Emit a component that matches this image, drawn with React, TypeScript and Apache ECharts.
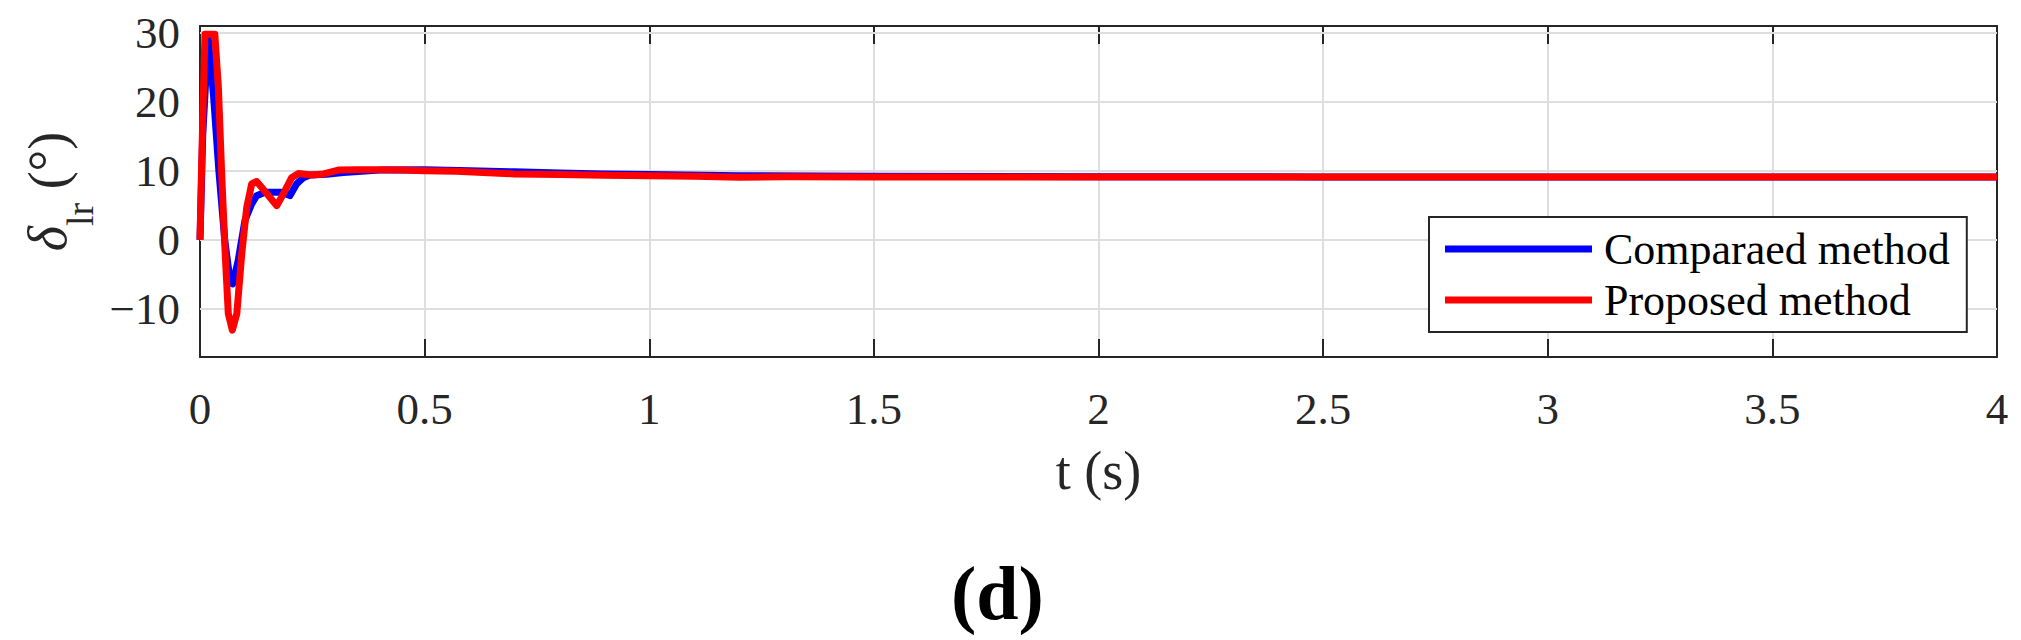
import React, { useEffect, useRef } from "react";
import * as echarts from "echarts";

const seriesNames = ["Comparaed method", "Proposed method"];
const xTicks = [0, 0.5, 1, 1.5, 2, 2.5, 3, 3.5, 4];
const yTicks = [-10, 0, 10, 20, 30];
const yMin = -17;
const yMax = 31;

const comparedT = [0, 0.006, 0.018, 0.03, 0.042, 0.055, 0.065, 0.073, 0.085, 0.1, 0.115, 0.126, 0.145, 0.182, 0.2, 0.215, 0.23, 0.245, 0.282, 0.319, 0.4, 0.5, 0.6, 0.7, 0.8, 0.9, 1.0, 1.2, 1.5, 2.0, 2.5, 3.0, 3.5, 4.0];
const comparedV = [0, 15, 29.5, 21, 10, 0, -5, -6.4, -3, 2.8, 5.2, 6.4, 6.9, 6.9, 6.4, 8.1, 9.0, 9.4, 9.5, 9.75, 10.1, 10.15, 10.0, 9.85, 9.7, 9.55, 9.45, 9.3, 9.2, 9.15, 9.12, 9.1, 9.1, 9.1];

const proposedT = [0, 0.004, 0.011, 0.033, 0.041, 0.048, 0.056, 0.063, 0.072, 0.082, 0.093, 0.104, 0.115, 0.126, 0.137, 0.171, 0.185, 0.204, 0.219, 0.249, 0.275, 0.308, 0.35, 0.4, 0.45, 0.5, 0.57, 0.7, 0.8, 0.9, 1.0, 1.1, 1.2, 1.3, 1.5, 2.0, 2.5, 3.0, 3.5, 4.0];
const proposedV = [0, 12, 29.8, 29.8, 22, 10, -2, -10.7, -13.1, -10.7, -2, 4.7, 8.1, 8.45, 7.6, 4.95, 6.6, 9.0, 9.6, 9.4, 9.55, 10.1, 10.15, 10.15, 10.1, 10.0, 9.95, 9.55, 9.45, 9.35, 9.3, 9.2, 9.05, 9.15, 9.12, 9.1, 9.1, 9.1, 9.1, 9.1];

const FONT = "'Liberation Serif', 'Times New Roman', serif";
const AXIS_COLOR = "#262626";
const GRID_COLOR = "#dedede";

const fmtNum = (v: number) => (v < 0 ? "\u2212" + Math.abs(v) : String(v));

export default function App() {
  const ref = useRef<HTMLDivElement>(null);
  useEffect(() => {
    if (!ref.current) return;
    const chart = echarts.init(ref.current, null, { renderer: "svg" });
    const pairs = (t: number[], v: number[]) => t.map((x, i) => [x, v[i]]);
    const boxAxis = {
      axisLine: { show: true, onZero: false, lineStyle: { color: AXIS_COLOR, width: 2 } },
      axisTick: { show: true, inside: true, length: 18, lineStyle: { color: AXIS_COLOR, width: 2 } },
    };
    chart.setOption({
      animation: false,
      backgroundColor: "#ffffff",
      grid: { left: 200, top: 26, right: 24, bottom: 283, containLabel: false },
      legend: {
        orient: "vertical",
        left: 1429,
        top: 217,
        data: seriesNames,
        icon: "rect",
        itemWidth: 147,
        itemHeight: 7,
        itemGap: 7,
        padding: [10, 17, 10, 16],
        borderColor: AXIS_COLOR,
        borderWidth: 2,
        backgroundColor: "#ffffff",
        textStyle: { fontFamily: FONT, fontSize: 44, lineHeight: 44, color: "#000000", padding: [0, 0, 0, 7] },
        z: 10,
      },
      xAxis: [
        {
          type: "value",
          min: 0,
          max: 4,
          interval: 0.5,
          position: "bottom",
          ...boxAxis,
          axisLabel: {
            show: true,
            margin: 29,
            fontFamily: FONT,
            fontSize: 45,
            color: AXIS_COLOR,
            showMinLabel: true,
            showMaxLabel: true,
            formatter: (v: number) => fmtNum(v),
          },
          splitLine: { show: true, lineStyle: { color: GRID_COLOR, width: 2 } },
          name: "t (s)",
          nameLocation: "middle",
          nameGap: 87,
          nameTextStyle: { fontFamily: FONT, fontSize: 54, color: AXIS_COLOR },
        },
        {
          type: "value",
          min: 0,
          max: 4,
          interval: 0.5,
          position: "top",
          ...boxAxis,
          axisLabel: { show: false },
          splitLine: { show: false },
        },
      ],
      yAxis: [
        {
          type: "value",
          min: yMin,
          max: yMax,
          position: "left",
          ...boxAxis,
          axisTick: { ...boxAxis.axisTick, customValues: yTicks },
          axisLabel: {
            show: true,
            customValues: yTicks,
            margin: 20,
            fontFamily: FONT,
            fontSize: 45,
            color: AXIS_COLOR,
            formatter: (v: number) => fmtNum(v),
          },
          splitLine: { show: false },
          name: "{d|\u03b4}{s|lr}{n| (\u00b0)}",
          nameLocation: "middle",
          nameRotate: 90,
          nameGap: 112,
          nameTextStyle: {
            fontFamily: FONT,
            color: AXIS_COLOR,
            rich: {
              d: { fontFamily: FONT, fontSize: 54, fontStyle: "italic", lineHeight: 54, verticalAlign: "top", color: AXIS_COLOR },
              s: { fontFamily: FONT, fontSize: 38, lineHeight: 38, verticalAlign: "top", padding: [40, 0, 0, 0], color: AXIS_COLOR },
              n: { fontFamily: FONT, fontSize: 54, lineHeight: 54, verticalAlign: "top", color: AXIS_COLOR },
            },
          },
        },
        {
          type: "value",
          min: yMin,
          max: yMax,
          position: "right",
          ...boxAxis,
          axisTick: { ...boxAxis.axisTick, customValues: yTicks },
          axisLabel: { show: false },
          splitLine: { show: false },
        },
      ],
      graphic: [
        {
          type: "text",
          left: 1001 - 50,
          top: 595 - 40,
          style: {
            text: "(d)",
            fontFamily: FONT,
            fontSize: 76,
            fontWeight: "bold",
            fill: "#000000",
          },
        },
      ],
      series: [
        {
          name: "__grid",
          type: "line",
          data: [],
          silent: true,
          z: 1,
          markLine: {
            silent: true,
            symbol: ["none", "none"],
            label: { show: false },
            z: 1,
            lineStyle: { color: GRID_COLOR, width: 2, type: "solid" },
            data: yTicks.map((v) => ({ yAxis: v })),
          },
        },
        {
          name: seriesNames[0],
          type: "line",
          data: pairs(comparedT, comparedV),
          showSymbol: false,
          symbol: "none",
          color: "#0000ff",
          lineStyle: { color: "#0000ff", width: 7, join: "round" },
          z: 3,
        },
        {
          name: seriesNames[1],
          type: "line",
          data: pairs(proposedT, proposedV),
          showSymbol: false,
          symbol: "none",
          color: "#ff0000",
          lineStyle: { color: "#ff0000", width: 7, join: "round" },
          z: 4,
        },
      ],
    });
    return () => chart.dispose();
  }, []);
  return (
    <div
      ref={ref}
      style={{ position: "absolute", left: 0, top: 0, width: 2021, height: 640, background: "#ffffff" }}
    />
  );
}
